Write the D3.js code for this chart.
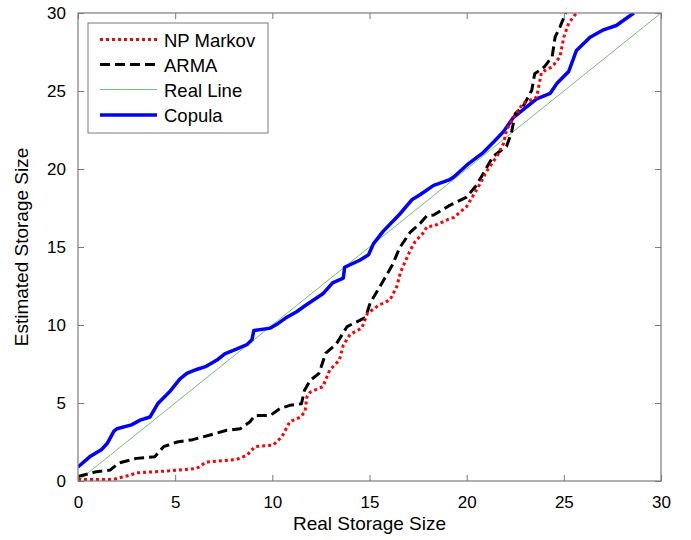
<!DOCTYPE html>
<html><head><meta charset="utf-8">
<script src="https://cdn.jsdelivr.net/npm/d3@7"></script>
<style>body{margin:0;background:#fff}svg{display:block}</style>
</head><body>
<svg id="c" width="691" height="540"></svg>
<script>
const seriesNames = ["NP Markov", "ARMA", "Real Line", "Copula"];
const xTicks = [0, 5, 10, 15, 20, 25, 30];
const yTicks = [0, 5, 10, 15, 20, 25, 30];
const npMarkov = [[0,0.1],[1.8,0.1],[2.7,0.38],[3.0,0.52],[4.7,0.65],[6.1,0.8],[6.6,1.22],[8.15,1.38],[8.7,1.65],[9.1,2.2],[10.05,2.3],[10.5,2.85],[10.9,3.8],[11.45,4.1],[11.68,4.45],[11.78,5.4],[11.95,5.7],[12.6,6.05],[12.95,7.1],[13.45,7.75],[13.65,8.7],[14.0,9.4],[14.6,9.8],[14.9,10.75],[15.45,11.25],[16.05,11.6],[16.4,12.45],[16.6,13.4],[17.1,14.8],[17.35,15.35],[17.8,15.95],[17.95,16.3],[18.3,16.35],[19.1,16.8],[19.35,16.9],[20.0,17.6],[20.6,18.85],[21.05,19.9],[21.55,20.8],[21.9,21.65],[22.05,22.5],[22.5,23.45],[22.9,24.2],[23.6,24.6],[23.85,26.2],[24.4,26.55],[24.8,27.2],[25.0,28.45],[25.25,29.35],[25.65,30]];
const arma = [[0,0.28],[0.95,0.6],[1.65,0.7],[2.1,1.15],[3.0,1.45],[3.95,1.55],[4.4,2.2],[5.1,2.5],[5.9,2.65],[6.8,2.95],[7.65,3.25],[8.35,3.35],[8.85,3.8],[9.1,4.2],[9.9,4.2],[10.4,4.65],[10.9,4.85],[11.5,4.95],[11.65,5.8],[11.95,6.45],[12.4,6.9],[12.75,8.2],[13.3,8.8],[13.85,9.9],[14.5,10.3],[14.8,10.5],[15.03,11.4],[15.6,12.6],[16.2,13.9],[16.55,14.95],[17.1,15.95],[17.6,16.5],[17.95,17.0],[18.3,17.05],[19.1,17.65],[20.0,18.2],[20.5,18.95],[20.85,19.7],[21.35,20.8],[22.05,21.45],[22.3,22.3],[22.5,23.55],[22.9,24.0],[23.35,25.05],[23.5,26.1],[24.0,26.55],[24.4,27.2],[24.55,28.45],[24.8,29.1],[25.1,30]];
const realLine = [[0,0],[30,30]];
const copula = [[0,0.9],[0.6,1.55],[1.2,2.0],[1.5,2.4],[1.85,3.2],[2.0,3.35],[2.75,3.6],[3.2,3.9],[3.7,4.1],[4.1,4.95],[4.7,5.7],[5.25,6.55],[5.6,6.9],[6.1,7.15],[6.6,7.35],[7.15,7.75],[7.55,8.15],[8.15,8.45],[8.7,8.75],[8.95,9.05],[9.05,9.65],[9.9,9.8],[10.3,10.1],[10.75,10.5],[11.25,10.85],[11.7,11.25],[12.6,12.0],[13.1,12.7],[13.65,13.0],[13.72,13.7],[14.5,14.15],[14.95,14.5],[15.2,15.2],[15.7,16.0],[16.55,17.1],[17.2,18.05],[17.6,18.35],[18.3,18.95],[19.1,19.3],[19.35,19.5],[20.1,20.35],[20.8,21.0],[21.4,21.75],[21.9,22.4],[22.4,23.3],[23.1,24.0],[23.6,24.5],[24.3,24.85],[24.65,25.5],[25.25,26.25],[25.65,27.6],[26.35,28.45],[27.0,28.9],[27.7,29.2],[28.6,30]];

const L = 78, R = 661, T = 13, B = 481;
const svg = d3.select("#c");
const x = d3.scaleLinear().domain([0, 30]).range([L, R]);
const y = d3.scaleLinear().domain([0, 30]).range([B, T]);
const axisColor = "#7a7a7a";
const font = "'Liberation Sans', Arial, Helvetica, sans-serif";

svg.append("defs").append("clipPath").attr("id", "clip")
  .append("rect").attr("x", L).attr("y", T).attr("width", R - L).attr("height", B - T);

const styles = [
  {data: npMarkov, color: "#ff0000", width: 3, dash: "3,3"},
  {data: arma, color: "#000000", width: 3, dash: "10,5"},
  {data: realLine, color: "#63b863", width: 0.9, dash: null},
  {data: copula, color: "#0000ff", width: 3.5, dash: null}
];
const line = d3.line().x(d => x(d[0])).y(d => y(d[1]));
const g = svg.append("g").attr("clip-path", "url(#clip)");
// draw order: real line, copula, arma, np markov
[2, 3, 1, 0].forEach(i => {
  const s = styles[i];
  g.append("path").datum(s.data).attr("d", line)
    .attr("fill", "none").attr("stroke", s.color).attr("stroke-width", s.width)
    .attr("stroke-dasharray", s.dash).attr("stroke-linejoin", "round");
});

// axes (inward ticks)
function styleAxis(sel, showLabels) {
  sel.select(".domain").remove();
  sel.selectAll(".tick line").attr("stroke", axisColor);
  sel.selectAll(".tick text").attr("fill", "#000").style("font-family", font).style("font-size", "17px");
  if (!showLabels) sel.selectAll(".tick text").remove();
}
const tl = 6;
svg.append("g").attr("transform", `translate(0,${B})`)
  .call(d3.axisBottom(x).tickValues(xTicks).tickSize(-tl).tickPadding(tl + 9).tickFormat(d3.format("d")))
  .call(s => styleAxis(s, true));
svg.append("g").attr("transform", `translate(0,${T})`)
  .call(d3.axisTop(x).tickValues(xTicks).tickSize(-tl))
  .call(s => styleAxis(s, false));
svg.append("g").attr("transform", `translate(${L},0)`)
  .call(d3.axisLeft(y).tickValues(yTicks).tickSize(-tl).tickPadding(tl + 6).tickFormat(d3.format("d")))
  .call(s => styleAxis(s, true));
svg.append("g").attr("transform", `translate(${R},0)`)
  .call(d3.axisRight(y).tickValues(yTicks).tickSize(-tl))
  .call(s => styleAxis(s, false));
svg.append("rect").attr("x", L).attr("y", T).attr("width", R - L).attr("height", B - T)
  .attr("fill", "none").attr("stroke", axisColor).attr("stroke-width", 1.2);

// axis labels
svg.append("text").attr("x", (L + R) / 2).attr("y", 530).attr("text-anchor", "middle")
  .style("font-family", font).style("font-size", "19px").text("Real Storage Size");
svg.append("text").attr("transform", `translate(28,${(T + B) / 2}) rotate(-90)`).attr("text-anchor", "middle")
  .style("font-family", font).style("font-size", "19px").text("Estimated Storage Size");

// legend
const lg = svg.append("g");
lg.append("rect").attr("x", 88).attr("y", 23).attr("width", 180).attr("height", 110)
  .attr("fill", "#fff").attr("stroke", axisColor).attr("stroke-width", 1);
const rowY = [39.5, 64.5, 89.5, 115];
seriesNames.forEach((n, i) => {
  const s = styles[i];
  lg.append("line").attr("x1", 100).attr("x2", 157).attr("y1", rowY[i]).attr("y2", rowY[i])
    .attr("stroke", s.color).attr("stroke-width", s.width).attr("stroke-dasharray", s.dash);
  lg.append("text").attr("x", 164).attr("y", rowY[i] + 7).style("font-family", font)
    .style("font-size", "18.5px").text(n);
});
</script>
</body></html>
